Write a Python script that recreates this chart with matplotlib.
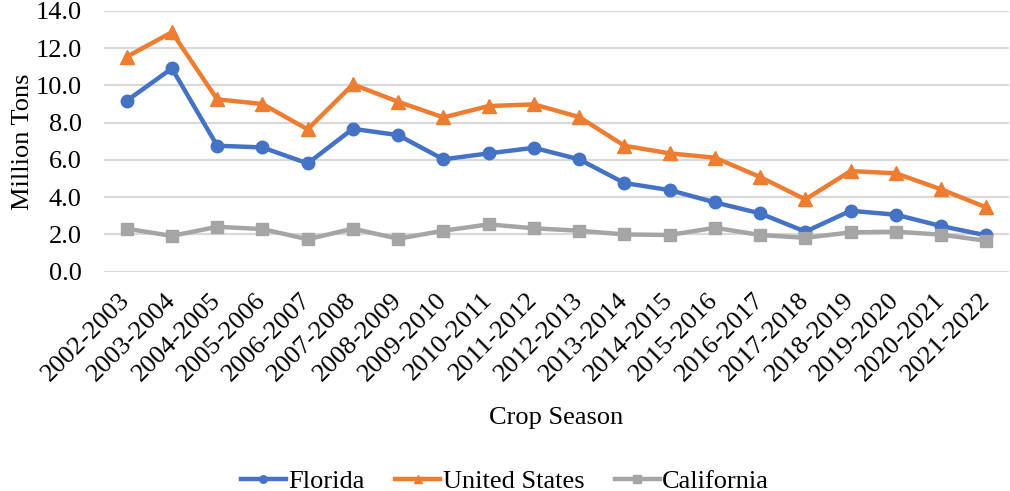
import matplotlib
matplotlib.use("Agg")
import matplotlib.pyplot as plt

# data
seasons = ["2002-2003", "2003-2004", "2004-2005", "2005-2006", "2006-2007",
           "2007-2008", "2008-2009", "2009-2010", "2010-2011", "2011-2012",
           "2012-2013", "2013-2014", "2014-2015", "2015-2016", "2016-2017",
           "2017-2018", "2018-2019", "2019-2020", "2020-2021", "2021-2022"]
florida = [9.17, 10.91, 6.76, 6.67, 5.81, 7.67, 7.33, 6.03, 6.35, 6.65,
           6.03, 4.76, 4.38, 3.72, 3.13, 2.15, 3.27, 3.06, 2.45, 1.95]
united_states = [11.53, 12.85, 9.25, 9.0, 7.64, 10.05, 9.12, 8.28, 8.89, 8.98,
                 8.3, 6.76, 6.35, 6.12, 5.08, 3.88, 5.40, 5.28, 4.42, 3.45]
california = [2.31, 1.92, 2.41, 2.29, 1.74, 2.31, 1.77, 2.2, 2.54, 2.33,
              2.2, 2.0, 1.97, 2.36, 1.97, 1.82, 2.11, 2.15, 1.99, 1.66]

plt.rcParams['font.family'] = ['Liberation Serif', 'DejaVu Serif']
fs = 19

fig = plt.figure(figsize=(10.1, 4.91), dpi=100)
ax = fig.add_axes([0.103, 0.4466, 0.896, 0.5314])

x = range(len(seasons))
ax.plot(x, florida, color='#4472C4', lw=3.2, marker='o', ms=9, label='Florida')
ax.plot(x, united_states, color='#ED7D31', lw=3.2, marker='^', ms=10, label='United States')
ax.plot(x, california, color='#A5A5A5', lw=3.2, marker='s', ms=9, label='California')

ax.set_ylim(0, 14)
ax.set_xlim(-0.5, len(seasons) - 0.5)
ax.set_yticks([0, 2, 4, 6, 8, 10, 12, 14])
ax.set_yticklabels([f"{v:.1f}" for v in range(0, 15, 2)], fontsize=fs)
ax.set_xticks(list(x))
ax.set_xticklabels(seasons, rotation=45, ha='right', va='center',
                   rotation_mode='anchor', fontsize=fs)
ax.tick_params(length=0)
ax.tick_params(axis='y', pad=16)
ax.tick_params(axis='x', pad=18)
ax.grid(axis='y', color='#D9D9D9', lw=1.6)
ax.set_axisbelow(True)
for s in ax.spines.values():
    s.set_visible(False)

ax.set_ylabel('Million Tons', fontsize=fs, labelpad=1)
fig.text(0.551, 0.148, 'Crop Season', fontsize=fs, ha='center', va='center')

fig.legend(loc='center', bbox_to_anchor=(0.5, 0.02), ncol=3, frameon=False,
           fontsize=fs, handlelength=1.7, markerscale=0.6, columnspacing=1.15,
           handletextpad=0.1)

fig.savefig('out.png', dpi=100)
